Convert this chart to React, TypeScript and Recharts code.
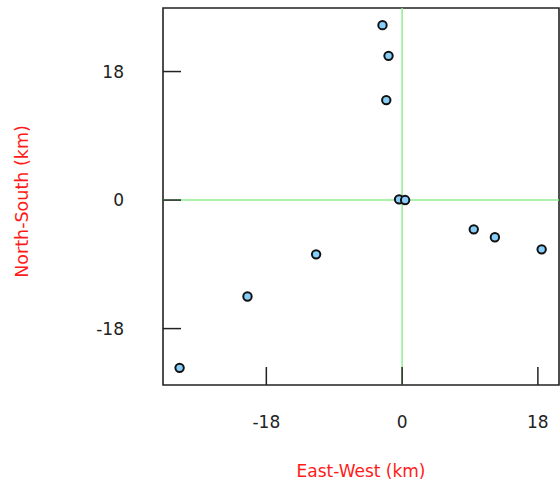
import {
  ReferenceArea,
  ReferenceLine,
  Scatter,
  ScatterChart,
  XAxis,
  YAxis,
} from 'recharts';

const eastWest = [-2.6, -1.8, -2.1, -0.4, 0.4, 9.5, 12.3, 18.5, -11.4, -20.5, -29.5];
const northSouth = [24.5, 20.2, 14.0, 0.1, 0.0, -4.1, -5.2, -6.9, -7.6, -13.5, -23.5];
const xTicks = [-18, 0, 18];
const yTicks = [-18, 0, 18];
const xDomain = [-31.7, 20.8];
const yDomain = [-25.9, 26.9];

const stations = eastWest.map((x, i) => ({ x, y: northSouth[i] }));

const FONT = '"DejaVu Sans", sans-serif';

function XTick(props: any) {
  const { x, y, payload } = props;
  return (
    <g>
      <line x1={x} y1={y} x2={x} y2={y - 18} stroke="#222" strokeWidth={1.5} />
      <text x={x} y={y + 37} textAnchor="middle" dominantBaseline="central" fontSize={17} fontFamily={FONT} fill="#222">
        {payload.value}
      </text>
    </g>
  );
}

function YTick(props: any) {
  const { x, y, payload } = props;
  return (
    <g>
      <line x1={x} y1={y} x2={x + 18} y2={y} stroke="#222" strokeWidth={1.5} />
      <text x={x - 39} y={y} textAnchor="end" dominantBaseline="central" fontSize={17} fontFamily={FONT} fill="#222">
        {payload.value}
      </text>
    </g>
  );
}

function Dot(props: any) {
  const { cx, cy } = props;
  return <circle cx={cx} cy={cy} r={4.2} fill="#87cefa" stroke="#111" strokeWidth={2} />;
}

export default function App() {
  return (
    <div style={{ position: 'absolute', left: 0, top: 0 }}>
      <ScatterChart width={560} height={480} margin={{ top: 8, right: 1, bottom: 35, left: 63 }}>
        <XAxis
          type="number"
          dataKey="x"
          domain={xDomain}
          ticks={xTicks}
          allowDataOverflow
          height={60}
          tickSize={0}
          tickMargin={0}
          tickLine={false}
          axisLine={false}
          tick={<XTick />}
          label={(p: any) => (
            <text
              x={p.viewBox.x + p.viewBox.width / 2}
              y={p.viewBox.y + 86}
              textAnchor="middle"
              dominantBaseline="central"
              fontSize={17}
              fontFamily={FONT}
              fill="#ff1a1a"
            >
              East-West (km)
            </text>
          )}
        />
        <YAxis
          type="number"
          dataKey="y"
          domain={yDomain}
          ticks={yTicks}
          allowDataOverflow
          width={100}
          tickSize={0}
          tickMargin={0}
          tickLine={false}
          axisLine={false}
          tick={<YTick />}
          label={(p: any) => {
            const cx = p.viewBox.x - 41;
            const cy = p.viewBox.y + p.viewBox.height / 2 + 5;
            return (
              <text
                x={cx}
                y={cy}
                transform={`rotate(-90 ${cx} ${cy})`}
                textAnchor="middle"
                dominantBaseline="central"
                fontSize={17.5}
                fontFamily={FONT}
                fill="#ff1a1a"
              >
                North-South (km)
              </text>
            );
          }}
        />
        <ReferenceLine x={0} stroke="#90ee90" strokeWidth={1.5} />
        <ReferenceLine y={0} stroke="#90ee90" strokeWidth={1.5} />
        <ReferenceArea
          x1={xDomain[0]}
          x2={xDomain[1]}
          y1={yDomain[0]}
          y2={yDomain[1]}
          fill="none"
          fillOpacity={0}
          stroke="#222"
          strokeWidth={1.6}
        />
        <Scatter data={stations} shape={<Dot />} isAnimationActive={false} />
      </ScatterChart>
    </div>
  );
}
